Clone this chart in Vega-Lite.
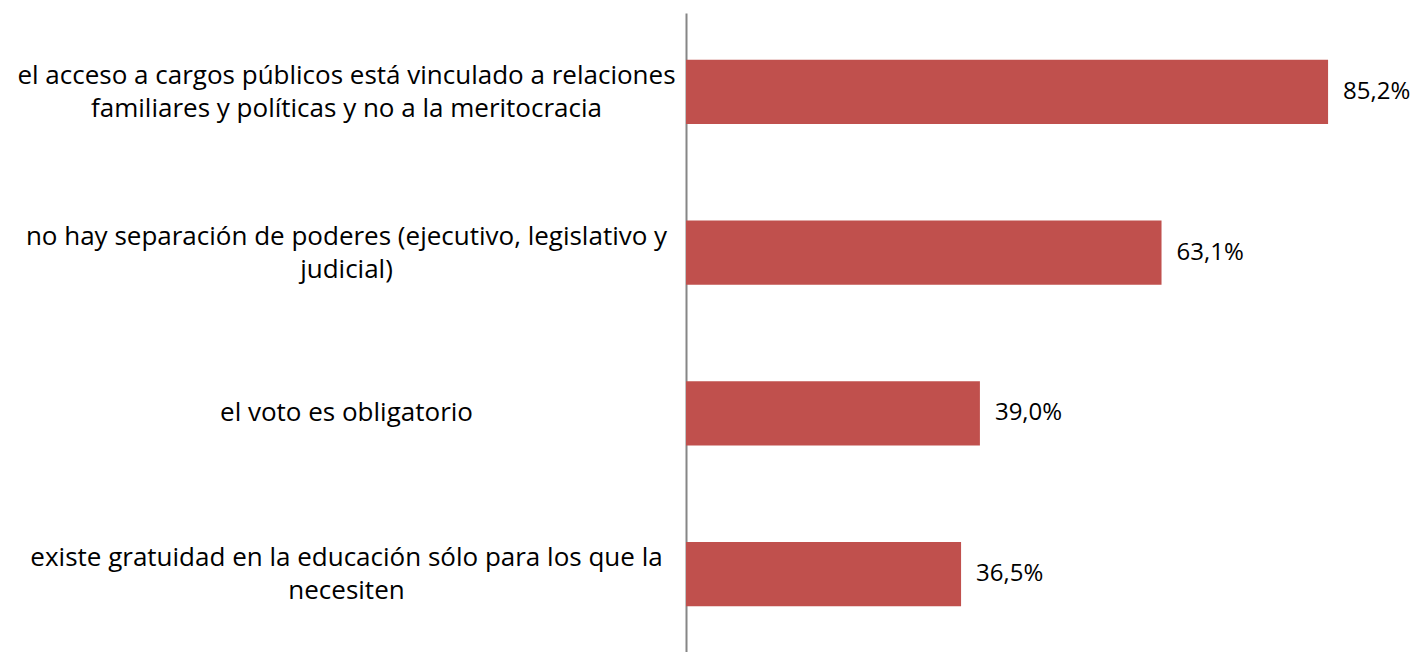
{
  "$schema": "https://vega.github.io/schema/vega-lite/v6.json",
  "autosize": {"type": "none"},
  "padding": {"left": 686, "top": 13, "right": 6, "bottom": 0},
  "width": 731,
  "height": 640,
  "background": "white",
  "data": {
    "values": [
      {"key": "el acceso a cargos públicos está vinculado a relaciones familiares y políticas y no a la meritocracia", "value": 85.2, "label": "85,2%"},
      {"key": "no hay separación de poderes (ejecutivo, legislativo y judicial)", "value": 63.1, "label": "63,1%"},
      {"key": "el voto es obligatorio", "value": 39.0, "label": "39,0%"},
      {"key": "existe gratuidad en la educación sólo para los que la necesiten", "value": 36.5, "label": "36,5%"}
    ]
  },
  "encoding": {
    "y": {
      "field": "key",
      "type": "nominal",
      "sort": null,
      "scale": {"paddingInner": 0.6, "paddingOuter": 0.29},
      "axis": {
        "title": null,
        "ticks": false,
        "domainColor": "#868686",
        "domainWidth": 2,
        "labelExpr": "indexof(datum.value, 'acceso') >= 0 ? ['el acceso a cargos públicos está vinculado a relaciones', 'familiares y políticas y no a la meritocracia'] : indexof(datum.value, 'separación') >= 0 ? ['no hay separación de poderes (ejecutivo, legislativo y', 'judicial)'] : indexof(datum.value, 'gratuidad') >= 0 ? ['existe gratuidad en la educación sólo para los que la', 'necesiten'] : datum.value",
        "labelAlign": "center",
        "labelPadding": 340,
        "labelLimit": 0,
        "labelOffset": {"condition": {"test": "indexof(datum.value, 'voto') >= 0", "value": 0}, "value": -16},
        "labelFont": "Open Sans",
        "labelFontSize": 26,
        "labelColor": "#000000",
        "labelLineHeight": 33
      }
    },
    "x": {
      "field": "value",
      "type": "quantitative",
      "scale": {"domain": [0, 97], "nice": false},
      "axis": null
    }
  },
  "layer": [
    {"mark": {"type": "bar", "color": "#C0504D"}},
    {
      "mark": {"type": "text", "align": "left", "dx": 15, "font": "Open Sans", "fontSize": 24, "color": "#000000"},
      "encoding": {"text": {"field": "label"}}
    }
  ],
  "config": {"view": {"stroke": null}}
}
